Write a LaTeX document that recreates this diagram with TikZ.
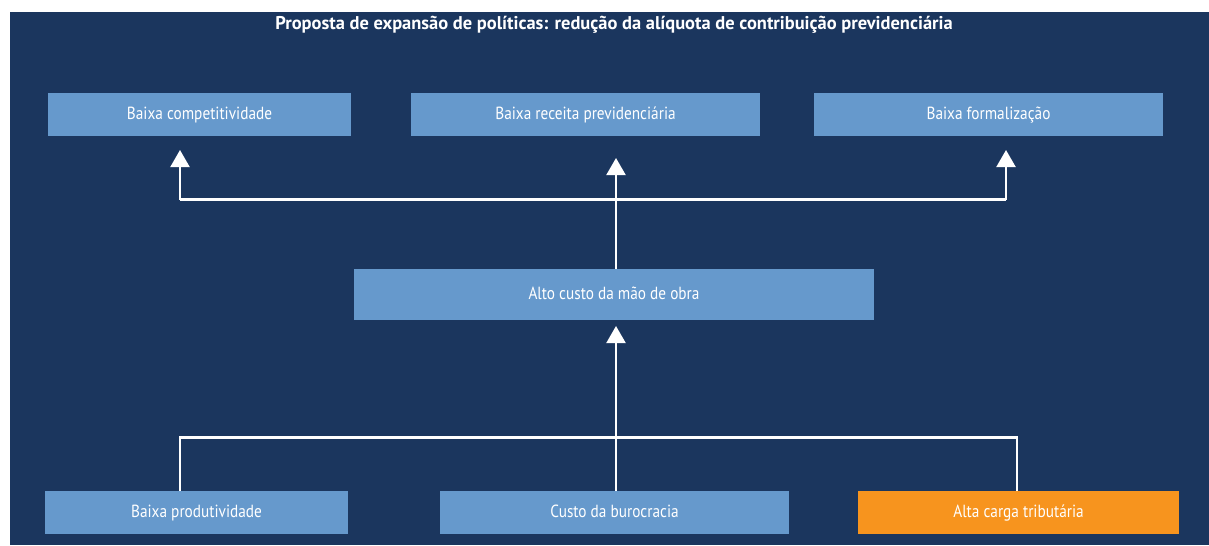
\documentclass[tikz,border=0pt]{standalone}
\usepackage{fontspec}
\setmainfont{PT Sans}[FakeStretch=0.87]
\newfontfamily\titulofonte{PT Sans}
\usetikzlibrary{arrows.meta}

\definecolor{fundo}{RGB}{27,54,94}
\definecolor{caixa}{RGB}{102,153,204}
\definecolor{laranja}{RGB}{247,148,30}

\tikzset{
  causa/.style={fill=caixa, text=white, inner sep=0pt, text height=1.5ex, text depth=0.4ex,
    font=\fontsize{10}{12}\selectfont},
  destaque/.style={causa, fill=laranja},
  liga/.style={draw=white, line width=1.2pt},
  seta/.style={liga, -{Triangle[width=0.38cm, length=0.34cm]}}
}

\begin{document}
\begin{tikzpicture}[x=0.02cm, y=-0.02cm]
  \useasboundingbox (0,0) rectangle (1209,545);
  \fill[fundo] (10,12) rectangle (1209,545);

  \node[text=white, font=\titulofonte\bfseries\fontsize{10.5}{12}\selectfont] (titulo) at (614,25)
    {Proposta de expansão de políticas: redução da alíquota de contribuição previdenciária};

  % efeitos
  \node[causa, minimum width=6.06cm, minimum height=0.86cm] (compet) at (199.5,114.5) {Baixa competitividade};
  \node[causa, minimum width=6.98cm, minimum height=0.86cm] (receita) at (585.5,114.5) {Baixa receita previdenciária};
  \node[causa, minimum width=6.98cm, minimum height=0.86cm] (formal) at (988.5,114.5) {Baixa formalização};

  % problema central
  \node[causa, minimum width=10.4cm, minimum height=1.02cm] (custo) at (614,294.5) {Alto custo da mão de obra};

  % causas
  \node[causa, minimum width=6.06cm, minimum height=0.86cm] (produt) at (196.5,512.5) {Baixa produtividade};
  \node[causa, minimum width=6.98cm, minimum height=0.86cm] (buroc) at (614.5,512.5) {Custo da burocracia};
  \node[destaque, minimum width=6.42cm, minimum height=0.86cm] (carga) at (1018.5,512.5) {Alta carga tributária};

  \coordinate (t1) at (180,150);
  \coordinate (t2) at (616,158);
  \coordinate (t3) at (1006,150);
  \coordinate (m) at (616,326);

  \draw[liga] (t1 |- 0,199.5) -- (t3 |- 0,199.5);
  \draw[seta] (t1 |- 0,199.5) -- (t1);
  \draw[seta] (t3 |- 0,199.5) -- (t3);
  \draw[seta] (t2 |- custo.north) -- (t2);

  \draw[liga] (180,491) |- (1017,437.5) -- (1017,491);
  \draw[liga] (616,491) -- (616,437.5);
  \draw[seta] (616,437.5) -- (m);
\end{tikzpicture}
\end{document}
